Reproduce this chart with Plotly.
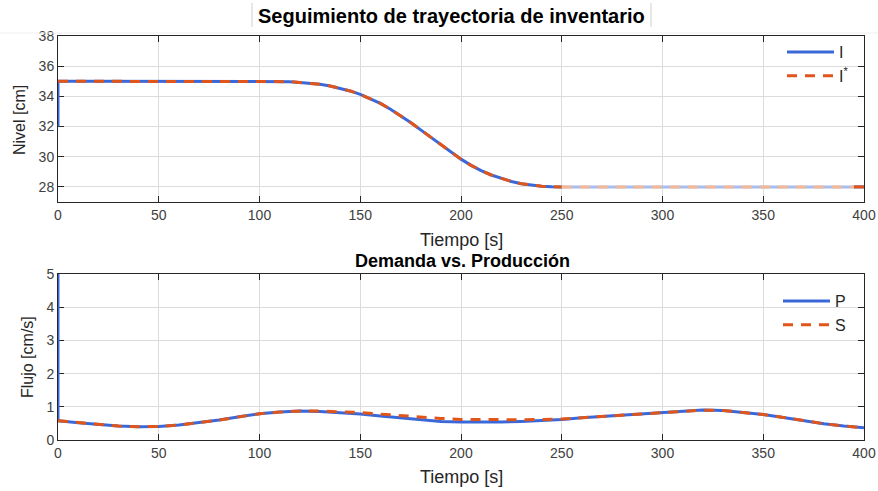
import plotly.graph_objects as go

W, H = 878, 491

# ---- Inventory level [cm] ----
t_lvl = [0, 10, 20, 30, 40, 50, 60, 70, 80, 90, 100, 110,
         115, 120, 125, 130, 135, 140, 145, 150, 155, 160, 165, 170,
         175, 180, 185, 190, 195, 200, 205, 210, 215, 220, 225, 230,
         235, 240, 245, 250, 260, 270, 280, 290, 300, 310, 320, 330,
         340, 350, 360, 370, 380, 390, 395, 400]
I_ref = [35.0, 35.0, 35.0, 35.0, 35.0, 35.0, 35.0, 35.0, 35.0, 35.0, 35.0, 35.0,
         34.975, 34.92, 34.875, 34.80, 34.69, 34.55, 34.36, 34.13, 33.85, 33.53, 33.15, 32.73,
         32.27, 31.78, 31.28, 30.78, 30.30, 29.84, 29.43, 29.08, 28.79, 28.55, 28.36, 28.21,
         28.11, 28.05, 28.01, 28.00, 28.00, 28.00, 28.00, 28.00, 28.00, 28.00, 28.00, 28.00,
         28.00, 28.00, 28.00, 28.00, 28.00, 28.00, 28.00, 28.00]
I_start = 32.0          # measured level at t = 0 before tracking kicks in
I_meas = list(I_ref)    # measured level follows the reference

# ---- Demand vs. production [cm/s] ----
t_flow = [0, 10, 20, 30, 40, 50, 60, 70, 80, 90, 100, 110, 120, 130, 140, 150,
          160, 170, 180, 190, 200, 210, 220, 230, 240, 250, 260, 270, 280, 290,
          300, 310, 320, 330, 340, 350, 360, 370, 380, 390, 400]
P_vals = [0.58, 0.52, 0.46, 0.42, 0.40, 0.41, 0.45, 0.52, 0.60, 0.70, 0.79, 0.84,
          0.87, 0.86, 0.83, 0.78, 0.72, 0.66, 0.61, 0.56, 0.54, 0.53, 0.54, 0.56,
          0.58, 0.62, 0.67, 0.71, 0.76, 0.80, 0.84, 0.88, 0.90, 0.89, 0.84, 0.77,
          0.68, 0.58, 0.49, 0.42, 0.37]
P_start = 5.0           # initial production peak at t = 0
S_vals = [0.58, 0.52, 0.46, 0.42, 0.40, 0.41, 0.45, 0.52, 0.60, 0.70, 0.79, 0.84,
          0.87, 0.87, 0.86, 0.83, 0.78, 0.73, 0.69, 0.65, 0.62, 0.61, 0.60, 0.61,
          0.62, 0.63, 0.67, 0.71, 0.76, 0.80, 0.84, 0.88, 0.90, 0.89, 0.84, 0.77,
          0.68, 0.58, 0.49, 0.42, 0.37]

BLUE = "#3a68d8"
ORANGE = "#e0561a"
BLUE_PALE = "#a7bdee"
ORANGE_PALE = "#f3b997"
FONT = "Liberation Sans, Arial, sans-serif"
DASH = "10px,8px"
LW = 3


def px_x(x):
    return x / W


def px_y(y):
    return 1 - y / H


def segments(t, y, lo, hi):
    """Split a series into [..lo], [lo..hi], [hi..] pieces sharing end points."""
    a = [(ti, yi) for ti, yi in zip(t, y) if ti <= lo]
    b = [(ti, yi) for ti, yi in zip(t, y) if lo <= ti <= hi]
    c = [(ti, yi) for ti, yi in zip(t, y) if ti >= hi]
    return [list(zip(*s)) for s in (a, b, c)]


fig = go.Figure()

# Upper panel: level traces, the settled stretch drawn in pale tones
lo, hi = 250, 395
t_I = [0] + t_lvl
y_I = [I_start] + I_meas
for k, (xs, ys) in enumerate(segments(t_I, y_I, lo, hi)):
    fig.add_trace(go.Scatter(
        x=xs, y=ys, mode="lines", name="I", legend="legend",
        showlegend=(k == 0),
        line=dict(color=BLUE_PALE if k == 1 else BLUE, width=LW),
        xaxis="x", yaxis="y"))
for k, (xs, ys) in enumerate(segments(t_lvl, I_ref, lo, hi)):
    fig.add_trace(go.Scatter(
        x=xs, y=ys, mode="lines", name="I<sup>*</sup>", legend="legend",
        showlegend=(k == 0),
        line=dict(color=ORANGE_PALE if k == 1 else ORANGE, width=LW, dash=DASH),
        xaxis="x", yaxis="y"))

# Lower panel: production and demand
fig.add_trace(go.Scatter(
    x=[0] + t_flow, y=[P_start] + P_vals, mode="lines", name="P",
    legend="legend2", line=dict(color=BLUE, width=LW),
    xaxis="x2", yaxis="y2"))
fig.add_trace(go.Scatter(
    x=t_flow, y=S_vals, mode="lines", name="S",
    legend="legend2", line=dict(color=ORANGE, width=LW, dash=DASH),
    xaxis="x2", yaxis="y2"))

x_dom = [px_x(58), px_x(864)]
axis_common = dict(
    showline=True, linecolor="#262626", linewidth=1, mirror="ticks",
    ticks="inside", ticklen=6, tickcolor="#262626", tickwidth=1,
    showgrid=True, gridcolor="#dcdcdc", gridwidth=1, zeroline=False,
    tickfont=dict(family=FONT, size=14, color="#404040"),
    automargin=False, layer="below traces",
)

legend_common = dict(
    xanchor="left", yanchor="top", bgcolor="rgba(0,0,0,0)", borderwidth=0,
    itemwidth=47, tracegroupgap=0,
    font=dict(family=FONT, size=16, color="#262626"),
)

fig.update_layout(
    width=W, height=H,
    margin=dict(l=0, r=0, t=0, b=0),
    paper_bgcolor="white", plot_bgcolor="white",
    font=dict(family=FONT, color="#262626"),
    xaxis=dict(domain=x_dom, anchor="y", range=[0, 400], dtick=50, **axis_common),
    yaxis=dict(domain=[px_y(202), px_y(36)], anchor="x", range=[27, 38],
               tickvals=[28, 30, 32, 34, 36, 38], **axis_common),
    xaxis2=dict(domain=x_dom, anchor="y2", range=[0, 400], dtick=50, **axis_common),
    yaxis2=dict(domain=[px_y(440), px_y(274)], anchor="x2", range=[0, 5],
                dtick=1, **axis_common),
    legend=dict(x=px_x(782), y=px_y(35), **legend_common),
    legend2=dict(x=px_x(778), y=px_y(284), **legend_common),
    showlegend=True,
)

annotations = [
    dict(text="<b>Seguimiento de trayectoria de inventario</b>", x=px_x(451), y=px_y(16),
         font=dict(family=FONT, size=20, color="#000000")),
    dict(text="<b>Demanda vs. Producción</b>", x=px_x(462), y=px_y(261),
         font=dict(family=FONT, size=18, color="#000000")),
    dict(text="Tiempo [s]", x=px_x(461), y=px_y(240),
         font=dict(family=FONT, size=18, color="#262626")),
    dict(text="Tiempo [s]", x=px_x(461), y=px_y(477),
         font=dict(family=FONT, size=18, color="#262626")),
    dict(text="Nivel [cm]", x=px_x(19), y=px_y(120), textangle=-90,
         font=dict(family=FONT, size=16, color="#262626")),
    dict(text="Flujo [cm/s]", x=px_x(27), y=px_y(357), textangle=-90,
         font=dict(family=FONT, size=16, color="#262626")),
]
for a in annotations:
    a.update(xref="paper", yref="paper", xanchor="center", yanchor="middle",
             showarrow=False)
fig.update_layout(annotations=annotations)

# Thin frame around the main title and a faint separator below it
fig.update_layout(shapes=[
    dict(type="line", xref="paper", yref="paper", x0=px_x(252), x1=px_x(252),
         y0=px_y(3), y1=px_y(27), line=dict(color="#cfcfcf", width=1)),
    dict(type="line", xref="paper", yref="paper", x0=px_x(651), x1=px_x(651),
         y0=px_y(3), y1=px_y(27), line=dict(color="#cfcfcf", width=1)),
    dict(type="line", xref="paper", yref="paper", x0=0, x1=1,
         y0=px_y(33), y1=px_y(33), line=dict(color="#eeeeee", width=1)),
])

fig.write_html("out.html")
